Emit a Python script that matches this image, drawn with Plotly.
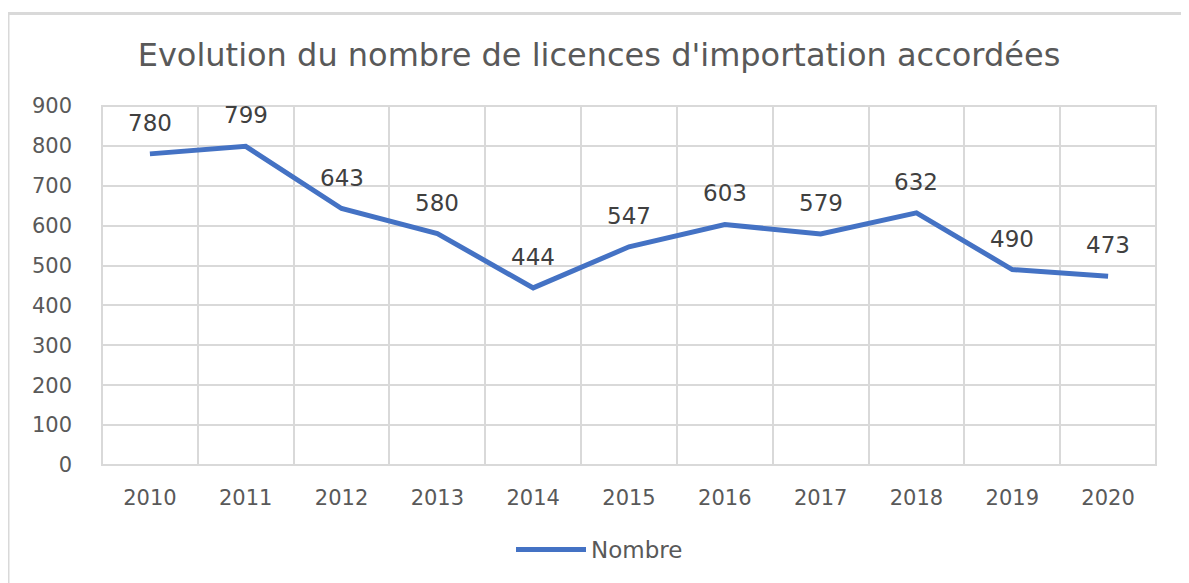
import plotly.graph_objects as go

years = ["2010", "2011", "2012", "2013", "2014", "2015", "2016", "2017", "2018", "2019", "2020"]
nombre = [780, 799, 643, 580, 444, 547, 603, 579, 632, 490, 473]
y_ticks = [0, 100, 200, 300, 400, 500, 600, 700, 800, 900]

OFF = 8  # body margin of the page
W, H = 1189 - OFF, 583 - OFF
ML, MR, MT, MB = 102 - OFF, 33, 106 - OFF, 116
pw, ph = W - ML - MR, H - MT - MB

FONT = "DejaVu Sans"
GRID = "#d9d9d9"
TXT = "#595959"

def px(x):
    return (x - OFF - ML) / pw

def py(y):
    return (H + OFF - MB - y) / ph

fig = go.Figure()
fig.add_trace(go.Scatter(
    x=years, y=nombre, mode="lines", name="Nombre",
    line=dict(color="#4472C4", width=5),
    cliponaxis=False,
))
for i, v in enumerate(nombre):
    fig.add_annotation(x=i, y=v, xref="x", yref="y", text=str(v), showarrow=False, yshift=31,
                       xanchor="center", yanchor="middle",
                       font=dict(family=FONT, size=23, color="#404040"))

fig.update_layout(
    width=W, height=H,
    margin=dict(l=ML, r=MR, t=MT, b=MB),
    paper_bgcolor="white", plot_bgcolor="white",
    title=dict(text="Evolution du nombre de licences d'importation accordées",
               x=px(599), xanchor="center", xref="paper", y=1 - (55 - OFF) / H, yanchor="middle",
               font=dict(family=FONT, size=32, color=TXT)),
    xaxis=dict(type="category", tickson="boundaries", showgrid=True, gridcolor=GRID, gridwidth=2,
               ticks="", showline=False, zeroline=False,
               tickfont=dict(family=FONT, size=21, color=TXT),
               range=[-0.5, 10.5], ticklabelstandoff=18),
    yaxis=dict(range=[0, 900], tickvals=y_ticks, showgrid=True, gridcolor=GRID, gridwidth=2,
               ticks="", showline=False, zeroline=False,
               tickfont=dict(family=FONT, size=21, color=TXT), ticklabelstandoff=29),
    showlegend=True,
    legend=dict(orientation="h", x=px(511), xanchor="left", y=py(552), yanchor="middle",
                font=dict(family=FONT, size=23, color=TXT), itemwidth=70),
    shapes=[
        dict(type="rect", xref="paper", yref="paper",
             x0=0, y0=0, x1=1, y1=1, line=dict(color=GRID, width=2), layer="below"),
        dict(type="line", xref="paper", yref="paper",
             x0=px(8), y0=py(13), x1=px(1189 + 5), y1=py(13), line=dict(color=GRID, width=3)),
        dict(type="line", xref="paper", yref="paper",
             x0=px(8), y0=py(13), x1=px(8), y1=py(583 + 5), line=dict(color=GRID, width=3)),
    ],
)
fig.write_html("out.html")
